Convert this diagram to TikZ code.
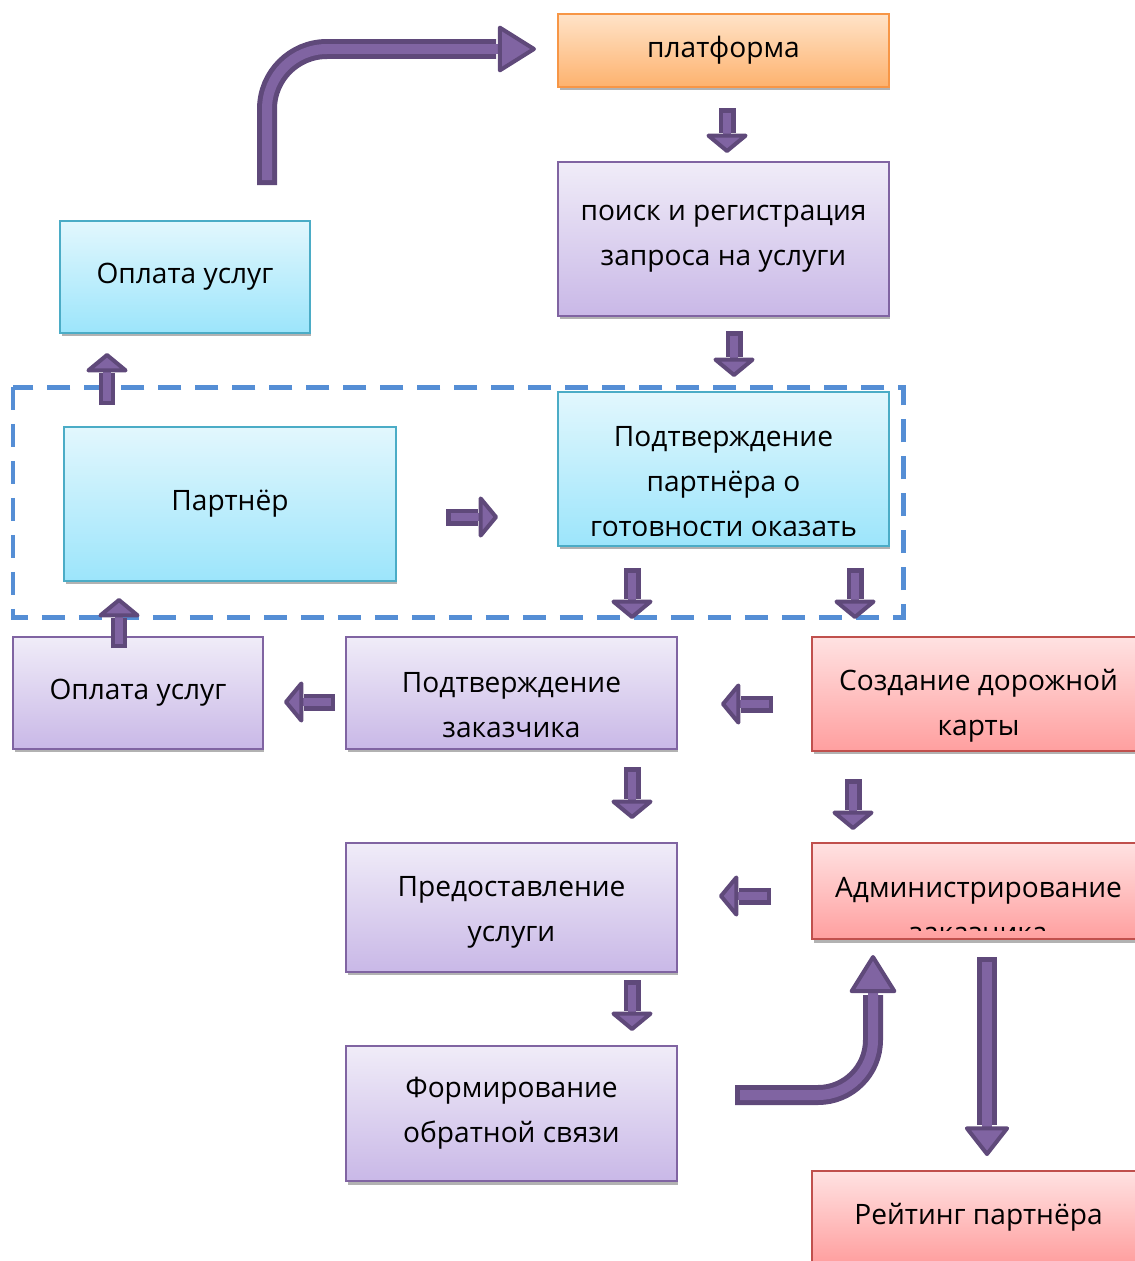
\documentclass[tikz,border=0pt]{standalone}
\usepackage{fontspec}
\setmainfont{Open Sans}
\usetikzlibrary{arrows.meta,shadows,positioning}

\definecolor{arrowfill}{HTML}{8064A2}
\definecolor{arrowdark}{HTML}{5F497A}
\definecolor{framecol}{HTML}{558ED5}
\definecolor{purpleline}{HTML}{8064A2}
\definecolor{purpletop}{HTML}{F0ECF8}
\definecolor{purplebot}{HTML}{C9B8E7}
\definecolor{cyanline}{HTML}{4BACC6}
\definecolor{cyantop}{HTML}{E2F7FD}
\definecolor{cyanbot}{HTML}{9CE5FB}
\definecolor{redline}{HTML}{C0504D}
\definecolor{redtop}{HTML}{FFE2E2}
\definecolor{redbot}{HTML}{FF9F9F}
\definecolor{orangeline}{HTML}{F79646}
\definecolor{orangetop}{HTML}{FFE3C8}
\definecolor{orangebot}{HTML}{FDB26E}

\tikzset{
	box/.style={draw, rectangle, line width=0.03cm, align=center, inner sep=0pt,
		font=\fontsize{16}{25.6}\selectfont,
		drop shadow={shadow xshift=0.03cm, shadow yshift=-0.07cm, opacity=0.3, fill=black}},
	boxtext/.style={align=center, inner sep=0pt, font=\fontsize{16}{25.6}\selectfont},
	purplebox/.style={box, draw=purpleline, top color=purpletop, bottom color=purplebot},
	cyanbox/.style={box, draw=cyanline, top color=cyantop, bottom color=cyanbot},
	redbox/.style={box, draw=redline, top color=redtop, bottom color=redbot},
	orangebox/.style={box, draw=orangeline, top color=orangetop, bottom color=orangebot},
	frame/.style={draw=framecol, line width=0.1cm, dash pattern=on 0.46cm off 0.28cm},
	blockarr/.style={line width=0.16cm, draw=arrowfill, shorten <=0.09cm,
		-{Triangle[width=0.95cm, length=0.4cm, line width=0.08cm 0, round, color=arrowdark, fill=arrowfill]},
		preaction={draw=arrowdark, line width=0.34cm, arrows=-, shorten <=0cm, shorten >=0.4cm}},
	bigarr/.style={line width=0.2cm, draw=arrowfill, shorten <=0.1cm, rounded corners=1.2cm,
		-{Triangle[width=0.98cm, length=0.8cm, line width=0.08cm 0, round, color=arrowdark, fill=arrowfill]},
		preaction={draw=arrowdark, line width=0.4cm, arrows=-, shorten <=0cm, shorten >=0.8cm}},
	longarr/.style={line width=0.2cm, draw=arrowfill, shorten <=0.1cm,
		-{Triangle[width=0.95cm, length=0.62cm, line width=0.08cm 0, round, color=arrowdark, fill=arrowfill]},
		preaction={draw=arrowdark, line width=0.4cm, arrows=-, shorten <=0cm, shorten >=0.62cm}},
}

\begin{document}
\begin{tikzpicture}[x=0.02cm, y=-0.02cm]
	\useasboundingbox (0,0) rectangle (1134,1261);
	%Dashed frame round the partner part
	\draw[frame] (13,387) rectangle (903,617);
	%Boxes
	\node[orangebox, minimum width=6.62cm, minimum height=1.46cm] (plat) at (723.5,50.5) {платформа};
	\node[purplebox, minimum width=6.62cm, minimum height=3.08cm] (search) at (723.5,239) {поиск и регистрация\\запроса на услуги};
	\node[cyanbox, minimum width=5cm, minimum height=2.24cm] (paytop) at (185,277) {Оплата услуг};
	\node[cyanbox, minimum width=6.64cm, minimum height=3.08cm] (partner) at (230,504) {Партнёр};
	\node[cyanbox, minimum width=6.62cm, minimum height=3.08cm] (confp) at (723.5,469) {};
	\begin{scope}
		\clip (confp.north west) rectangle ([yshift=0.22cm]confp.south east);
		\node[boxtext] (confptext) at (723.5,482) {Подтверждение\\партнёра о\\готовности оказать};
	\end{scope}
	\node[purplebox, minimum width=5cm, minimum height=2.24cm] (paybot) at (138,693) {Оплата услуг};
	\node[purplebox, minimum width=6.62cm, minimum height=2.24cm] (confc) at (511.5,693) {};
	\node[boxtext] (confctext) at (511.5,705) {Подтверждение\\заказчика};
	\node[redbox, minimum width=6.66cm, minimum height=2.28cm] (road) at (978.5,694) {};
	\node[boxtext] (roadtext) at (978.5,706) {Создание дорожной\\карты};
	\node[purplebox, minimum width=6.62cm, minimum height=2.58cm] (serv) at (511.5,907.5) {};
	\node[boxtext] (servtext) at (511.5,912) {Предоставление\\услуги};
	\node[redbox, minimum width=6.66cm, minimum height=1.92cm] (admin) at (978.5,891) {};
	\begin{scope}
		\clip (admin.north west) rectangle ([yshift=0.18cm]admin.south east);
		\node[boxtext] (admintext) at (978.5,910.5) {Администрирование\\заказчика};
	\end{scope}
	\node[purplebox, minimum width=6.62cm, minimum height=2.7cm] (feed) at (511.5,1113.5) {Формирование\\обратной связи};
	\node[redbox, minimum width=6.66cm, minimum height=1.84cm] (rate) at (978.5,1217) {Рейтинг партнёра};
	%Ends of the small block arrows
	\coordinate (a1s) at (727,108);  \coordinate (a1e) at (727,153);
	\coordinate (a2s) at (734,331);  \coordinate (a2e) at (734,377);
	\coordinate (a3s) at (107,405);  \coordinate (a3e) at (107,353);
	\coordinate (a4s) at (446,517);  \coordinate (a4e) at (498,517);
	\coordinate (a5s) at (632,568);  \coordinate (a5e) at (632,619);
	\coordinate (a6s) at (855,568);  \coordinate (a6e) at (855,619);
	\coordinate (a7s) at (119,648);  \coordinate (a7e) at (119,598);
	\coordinate (a8s) at (335,702);  \coordinate (a8e) at (284,702);
	\coordinate (a9s) at (773,704);  \coordinate (a9e) at (721,704);
	\coordinate (a10s) at (632,767); \coordinate (a10e) at (632,819);
	\coordinate (a11s) at (853,779); \coordinate (a11e) at (853,830);
	\coordinate (a12s) at (771,896); \coordinate (a12e) at (719,896);
	\coordinate (a13s) at (632,980); \coordinate (a13e) at (632,1031);
	\foreach \i in {1,...,13} {
		\draw[blockarr] (a\i s) -- (a\i e);
	}
	%Long arrow down to the rating
	\coordinate (rates) at (987,957);
	\coordinate (ratee) at (987,1156);
	\draw[longarr] (rates) -- (ratee);
	%Curved arrows
	\coordinate (pays) at (267,185);
	\coordinate (plate) at (536,49);
	\draw[bigarr] (pays) |- (plate);
	\coordinate (feeds) at (735,1095);
	\coordinate (admine) at (873,955);
	\draw[bigarr, rounded corners=1.1cm] (feeds) -| (admine);
\end{tikzpicture}
\end{document}
